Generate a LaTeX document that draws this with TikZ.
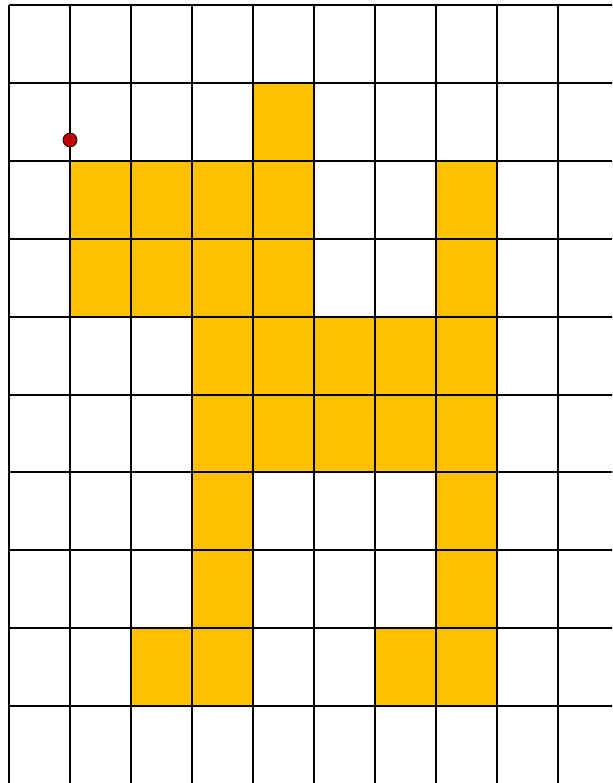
\documentclass[tikz,border=0pt]{standalone}
\begin{document}
\begin{tikzpicture}[x=1pt,y=-1pt,
  cellfill/.style={fill={rgb,255:red,255;green,192;blue,0}},
  gridline/.style={draw=black,line width=2pt},
  reddot/.style={circle,draw=black,line width=0.8pt,fill={rgb,255:red,192;green,0;blue,0},inner sep=0pt,minimum size=14pt}]
\useasboundingbox (0,0) rectangle (612,783);
\clip (0,0) rectangle (612,783);
\def\cw{61}
\def\ch{77.9}
\foreach \c/\r in {4/1, 1/2,2/2,3/2,4/2,7/2, 1/3,2/3,3/3,4/3,7/3,
  3/4,4/4,5/4,6/4,7/4, 3/5,4/5,5/5,6/5,7/5, 3/6,7/6, 3/7,7/7, 2/8,3/8,6/8,7/8}
  \path[cellfill] ({9+\c*\cw},{5+\r*\ch}) rectangle ({9+(\c+1)*\cw},{5+(\r+1)*\ch});
\foreach \c in {0,...,9}
  \draw[gridline] ({9+\c*\cw},5) -- ({9+\c*\cw},790);
\foreach \r in {0,...,9}
  \draw[gridline] (9,{5+\r*\ch}) -- (620,{5+\r*\ch});
\node[reddot] (dot) at (70,140) {};
\end{tikzpicture}
\end{document}
